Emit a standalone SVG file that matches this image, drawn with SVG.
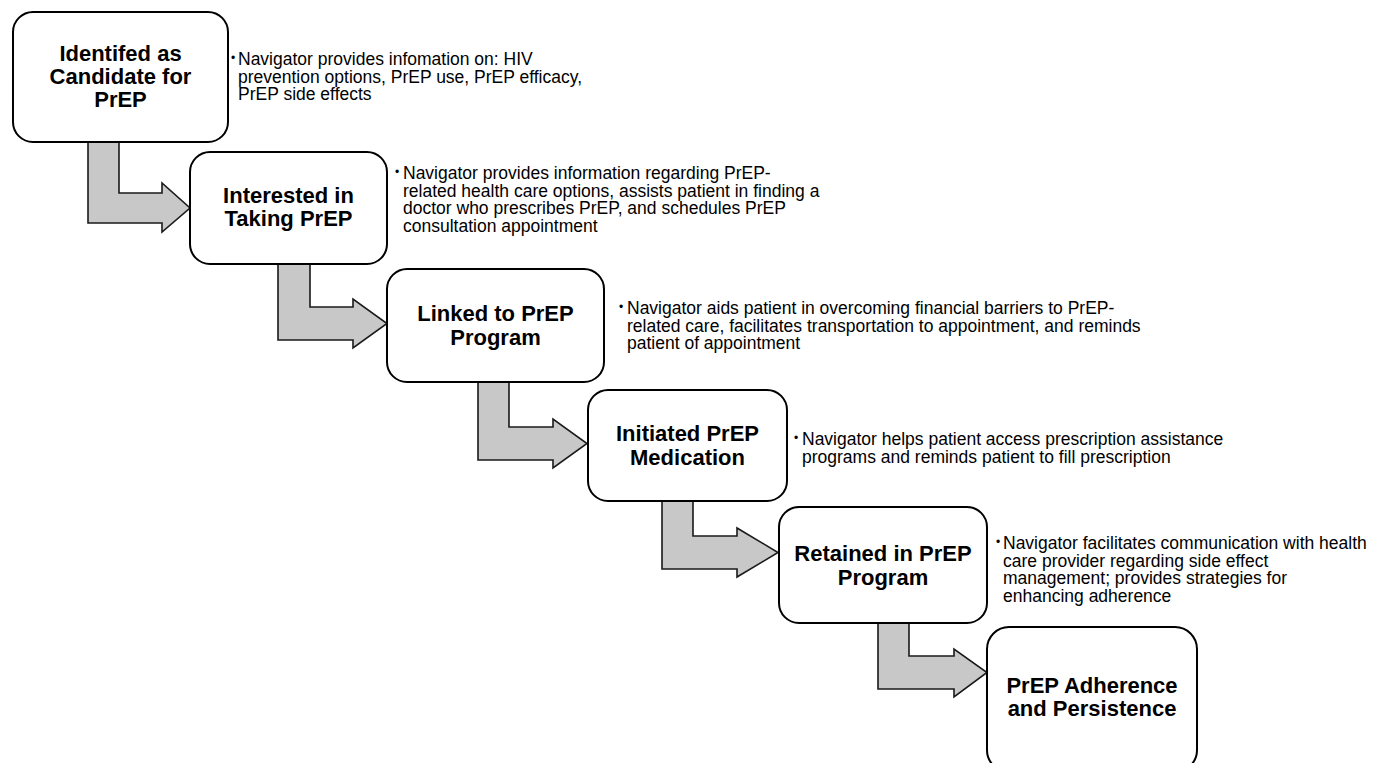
<svg xmlns="http://www.w3.org/2000/svg" width="1376" height="763" viewBox="0 0 1376 763">
<style>
.box{fill:#fff;stroke:#000;stroke-width:2}
.arr{fill:#c8c8c8;stroke:#1a1a1a;stroke-width:1.6;stroke-linejoin:miter}
.t{font-family:"Liberation Sans",Arial,sans-serif;font-weight:bold;font-size:22px;fill:#000;text-anchor:middle}
.b{font-family:"Liberation Sans",Arial,sans-serif;font-size:17.5px;fill:#000}
.dot{font-family:"Liberation Sans",Arial,sans-serif;font-size:12px;fill:#000}
</style>
<rect width="1376" height="763" fill="#fff"/>
<g id="connectors">
<path class="arr" d="M88,142 L119,142 L119,193 L162,193 L162,183 L190,208 L162,232 L162,223 L88,223 Z"/>
<path class="arr" d="M278,264 L310,264 L310,307 L353,307 L353,299 L387,323.5 L353,348 L353,340 L278,340 Z"/>
<path class="arr" d="M478,382 L509,382 L509,427 L553,427 L553,419 L587,443.5 L553,468 L553,460 L478,460 Z"/>
<path class="arr" d="M662,501 L693,501 L693,536 L737,536 L737,528 L778,552.5 L737,577 L737,569 L662,569 Z"/>
<path class="arr" d="M878,622 L909,622 L909,656 L954,656 L954,649 L987,672.5 L954,697 L954,689 L878,689 Z"/>
</g>
<g id="node1">
<rect class="box" x="13" y="12" width="215" height="130" rx="20"/>
<text class="t" x="120.5" y="61">Identifed as</text>
<text class="t" x="120.5" y="84">Candidate for</text>
<text class="t" x="120.5" y="107">PrEP</text>
</g>
<g id="note1">
<text class="dot" x="231" y="62">•</text>
<text class="b" x="238" y="65">Navigator provides infomation on: HIV</text>
<text class="b" x="238" y="82.5">prevention options, PrEP use, PrEP efficacy,</text>
<text class="b" x="238" y="100">PrEP side effects</text>
</g>
<g id="node2">
<rect class="box" x="190" y="152" width="197" height="112" rx="20"/>
<text class="t" x="288.5" y="202.5">Interested in</text>
<text class="t" x="288.5" y="226">Taking PrEP</text>
</g>
<g id="note2">
<text class="dot" x="395" y="176">•</text>
<text class="b" x="403" y="179">Navigator provides information regarding PrEP-</text>
<text class="b" x="403" y="196.5">related health care options, assists patient in finding a</text>
<text class="b" x="403" y="214">doctor who prescribes PrEP, and schedules PrEP</text>
<text class="b" x="403" y="231.5">consultation appointment</text>
</g>
<g id="node3">
<rect class="box" x="387" y="269" width="217" height="113" rx="20"/>
<text class="t" x="495.5" y="321">Linked to PrEP</text>
<text class="t" x="495.5" y="344.5">Program</text>
</g>
<g id="note3">
<text class="dot" x="619" y="311">•</text>
<text class="b" x="627" y="314">Navigator aids patient in overcoming financial barriers to PrEP-</text>
<text class="b" x="627" y="331.5">related care, facilitates transportation to appointment, and reminds</text>
<text class="b" x="627" y="349">patient of appointment</text>
</g>
<g id="node4">
<rect class="box" x="588" y="390" width="199" height="111" rx="20"/>
<text class="t" x="687.5" y="441">Initiated PrEP</text>
<text class="t" x="687.5" y="464.5">Medication</text>
</g>
<g id="note4">
<text class="dot" x="794" y="442">•</text>
<text class="b" x="802" y="445">Navigator helps patient access prescription assistance</text>
<text class="b" x="802" y="462.5">programs and reminds patient to fill prescription</text>
</g>
<g id="node5">
<rect class="box" x="779" y="507" width="208" height="116" rx="20"/>
<text class="t" x="883" y="561">Retained in PrEP</text>
<text class="t" x="883" y="584.5">Program</text>
</g>
<g id="note5">
<text class="dot" x="996" y="546">•</text>
<text class="b" x="1003" y="549">Navigator facilitates communication with health</text>
<text class="b" x="1003" y="566.5">care provider regarding side effect</text>
<text class="b" x="1003" y="584">management; provides strategies for</text>
<text class="b" x="1003" y="601.5">enhancing adherence</text>
</g>
<g id="node6">
<rect class="box" x="987" y="627" width="210" height="145" rx="22"/>
<text class="t" x="1092" y="692.5">PrEP Adherence</text>
<text class="t" x="1092" y="716">and Persistence</text>
</g>
</svg>
